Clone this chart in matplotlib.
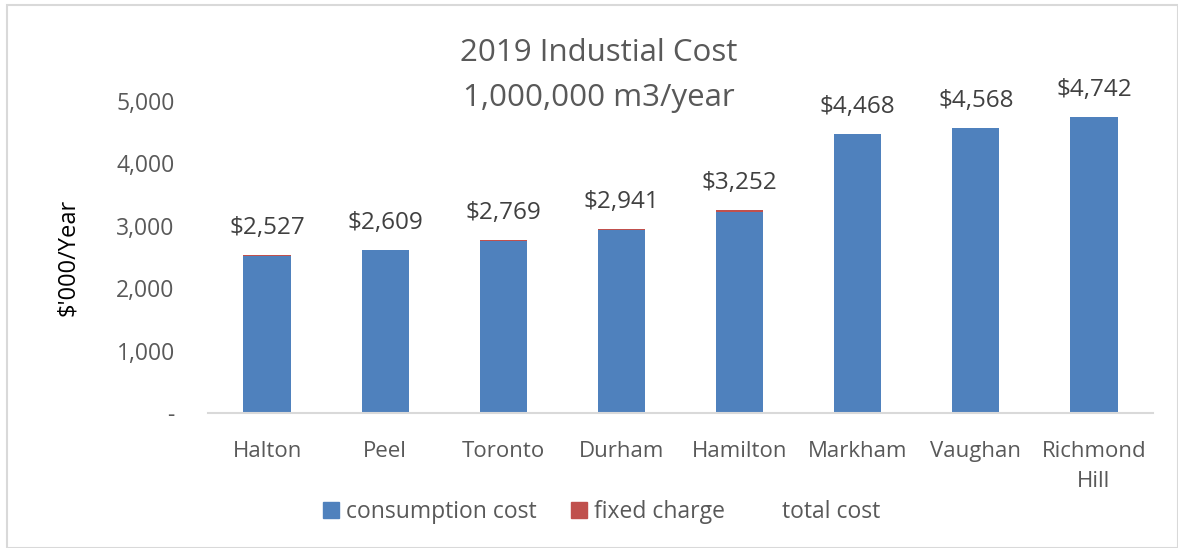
import matplotlib
matplotlib.use("Agg")
import matplotlib.pyplot as plt
from matplotlib.patches import Patch, Rectangle
from matplotlib.ticker import FuncFormatter

categories = ["Halton", "Peel", "Toronto", "Durham", "Hamilton", "Markham", "Vaughan", "Richmond\nHill"]
total_cost = [2527, 2609, 2769, 2941, 3252, 4468, 4568, 4742]
fixed_charge = [8, 5, 5, 12, 35, 3, 3, 3]
consumption_cost = [t - f for t, f in zip(total_cost, fixed_charge)]

plt.rcParams['font.family'] = ['Open Sans', 'DejaVu Sans']
BLUE = "#4F81BD"
RED = "#C0504D"
GREY = "#595959"

fig = plt.figure(figsize=(11.78, 5.48), dpi=100)
fig.patches.append(Rectangle((0.006, 0.0), 0.994, 0.991, transform=fig.transFigure,
                             fill=False, edgecolor="#D9D9D9", linewidth=1.5))
ax = fig.add_axes([0.1766, 0.2464, 0.8022, 0.5693])

x = range(len(categories))
w = 0.40
ax.bar(x, consumption_cost, width=w, color=BLUE, label="consumption cost")
ax.bar(x, fixed_charge, width=w, bottom=consumption_cost, color=RED, label="fixed charge")
for i, t in enumerate(total_cost):
    ax.annotate(f"${t:,}", (i, t), xytext=(0, 11), textcoords="offset points",
                ha="center", va="bottom", fontsize=17.5, color="#404040")

ax.set_xlim(-0.5, len(categories) - 0.5)
ax.set_ylim(0, 5000)
ax.set_yticks([0, 1000, 2000, 3000, 4000, 5000])
ax.yaxis.set_major_formatter(FuncFormatter(lambda v, p: "-" if v == 0 else f"{int(v):,}"))
ax.set_xticks(list(x))
ax.set_xticklabels(categories, linespacing=1.55)
for s in ["top", "right", "left"]:
    ax.spines[s].set_visible(False)
ax.spines["bottom"].set_color("#D9D9D9")
ax.spines["bottom"].set_linewidth(1.5)
ax.tick_params(axis="y", length=0, pad=24, labelsize=16.5, labelcolor=GREY)
ax.tick_params(axis="x", length=0, pad=20, labelsize=16, labelcolor=GREY)
ax.set_ylabel("$'000/Year", fontsize=17, color="black", labelpad=26)

fig.text(0.508, 0.862, "2019 Industial Cost\n1,000,000 m3/year", ha="center", va="center",
         fontsize=22.5, color=GREY, linespacing=1.65)

handles = [Patch(color=BLUE, label="consumption cost"),
           Patch(color=RED, label="fixed charge"),
           Patch(color="none", label="total cost")]
fig.legend(handles=handles, loc="center", bbox_to_anchor=(0.511, 0.065), ncol=3, frameon=False,
           fontsize=16.5, labelcolor=GREY, handlelength=0.7, handleheight=0.7,
           handletextpad=0.3, columnspacing=1.5)

fig.savefig("out.png", dpi=100)
